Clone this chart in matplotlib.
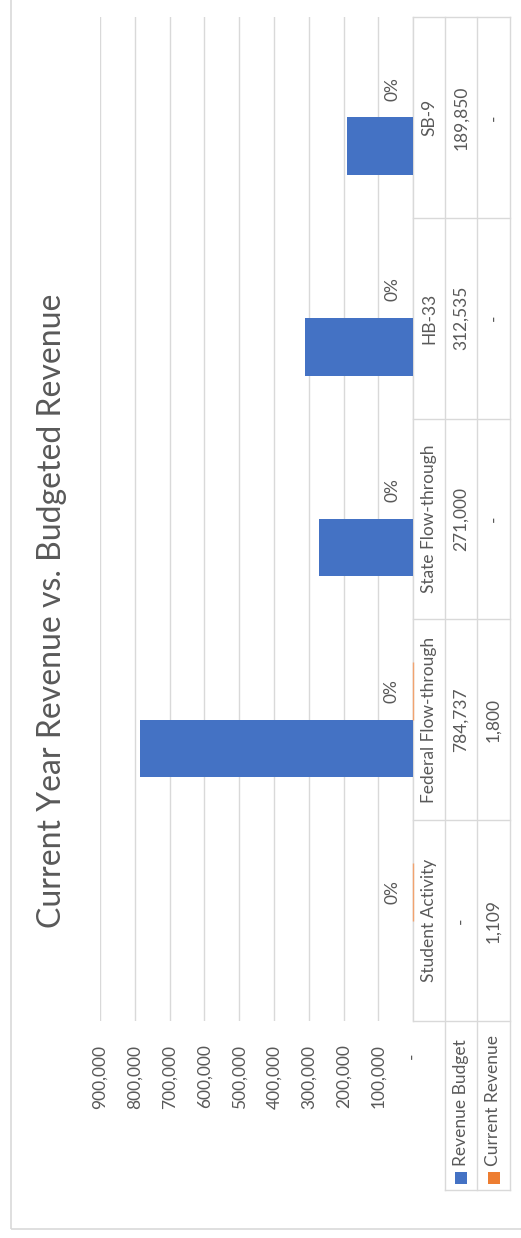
import matplotlib
matplotlib.use("Agg")
import matplotlib.pyplot as plt
from matplotlib.transforms import blended_transform_factory
from matplotlib.patches import Rectangle
from matplotlib.lines import Line2D

# ---------------- data ----------------
categories = ["Student Activity", "Federal Flow-through", "State Flow-through", "HB-33", "SB-9"]
revenue_budget = [0, 784737, 271000, 312535, 189850]
current_revenue = [1109, 1800, 0, 0, 0]
pct_labels = ["0%", "0%", "0%", "0%", "0%"]
series_names = ["Revenue Budget", "Current Revenue"]
value_ticks = [0, 100000, 200000, 300000, 400000, 500000, 600000, 700000, 800000, 900000]
title = "Current Year Revenue vs. Budgeted Revenue"

# ---------------- style ----------------
plt.rcParams['font.family'] = ['Lato', 'DejaVu Sans']
BLUE = "#4472C4"
ORANGE = "#ED7D31"
GRID = "#D9D9D9"
TXT = "#595959"
FS = 12.5

W, H = 521, 1238
DPI = 100
fig = plt.figure(figsize=(W / DPI, H / DPI), dpi=DPI)
fig.patch.set_facecolor("white")


def fx(p):
    return p / W


def fy(p):
    return 1 - p / H


# plot area (rotated chart: values grow to the left, categories bottom->top)
PL, PR, PT, PB = 100, 413.3, 17, 1021
ax = fig.add_axes([fx(PL), fy(PB), fx(PR) - fx(PL), fy(PT) - fy(PB)])
ax.set_xlim(value_ticks[-1], value_ticks[0])
ax.set_ylim(-0.5, len(categories) - 0.5)
for s in ax.spines.values():
    s.set_visible(False)
ax.set_yticks([])
ax.set_xticks(value_ticks)
ax.set_xticklabels(["-  " if v == 0 else f"{v:,}" for v in value_ticks])
ax.tick_params(axis="x", length=0, pad=17, labelsize=FS, labelcolor=TXT, labelrotation=90)
ax.grid(axis="x", color=GRID, linewidth=1.0, zorder=1)
ax.set_axisbelow(True)
ax.axvline(0, color=GRID, lw=1.0, zorder=2, clip_on=False)

n = len(categories)
w = 2 / 3.5 / 2  # gap width 150%
ys = list(range(n))
ax.barh([y - w / 2 for y in ys], revenue_budget, height=w, color=BLUE, zorder=3)
ax.barh([y + w / 2 for y in ys], current_revenue, height=w, color=ORANGE,
        edgecolor="#F1A36F", linewidth=[1.0 if v else 0.0 for v in current_revenue],
        zorder=4, clip_on=False)

for y, v, lab in zip(ys, current_revenue, pct_labels):
    ax.annotate(lab, xy=(v, y + w / 2), xytext=(-15, 0), textcoords="offset points",
                rotation=90, ha="center", va="center", fontsize=FS, color=TXT)

# ---------------- data table ----------------
bt = blended_transform_factory(fig.transFigure, ax.transData)
X0, X1, X2, X3 = 413.3, 445, 477, 510
LEG_B = 1190
row_centers = [(X0 + X1) / 2, (X1 + X2) / 2, (X2 + X3) / 2]

# category boundaries
for b in [i - 0.5 for i in range(n + 1)]:
    ax.add_artist(Line2D([fx(X0), fx(X3)], [b, b], transform=bt, color=GRID, lw=1.0, clip_on=False))
for xx in (X1, X2, X3):
    fig.add_artist(Line2D([fx(xx), fx(xx)], [fy(PT), fy(LEG_B)], color=GRID, lw=1.0))
fig.add_artist(Line2D([fx(X1), fx(X3)], [fy(LEG_B), fy(LEG_B)], color=GRID, lw=1.0))

for y, c, b, cr in zip(ys, categories, revenue_budget, current_revenue):
    ax.text(fx(row_centers[0]), y, c, transform=bt, rotation=90, ha="center", va="center",
            fontsize=FS, color=TXT)
    ax.text(fx(row_centers[1]), y, "-" if b == 0 else f"{b:,}", transform=bt, rotation=90,
            ha="center", va="center", fontsize=FS, color=TXT)
    ax.text(fx(row_centers[2]), y, "-" if cr == 0 else f"{cr:,}", transform=bt, rotation=90,
            ha="center", va="center", fontsize=FS, color=TXT)

# legend keys in the table
for rc, name, col in zip(row_centers[1:], series_names, [BLUE, ORANGE]):
    fig.add_artist(Rectangle((fx(rc - 6), fy(1184)), 12 / W, 12 / H, transform=fig.transFigure,
                             facecolor=col, edgecolor="none"))
    fig.text(fx(rc), fy(1166), name, rotation=90, ha="center", va="bottom", fontsize=FS, color=TXT)

# title
fig.text(fx(52), fy(611), title, rotation=90, ha="center", va="center", fontsize=23, color=TXT)

# chart border
fig.add_artist(Rectangle((fx(11), fy(1229)), fx(540) - fx(11), fy(-20) - fy(1229),
                         transform=fig.transFigure, fill=False, edgecolor=GRID, lw=1.2))

fig.savefig("out.png", dpi=DPI, facecolor="white")
